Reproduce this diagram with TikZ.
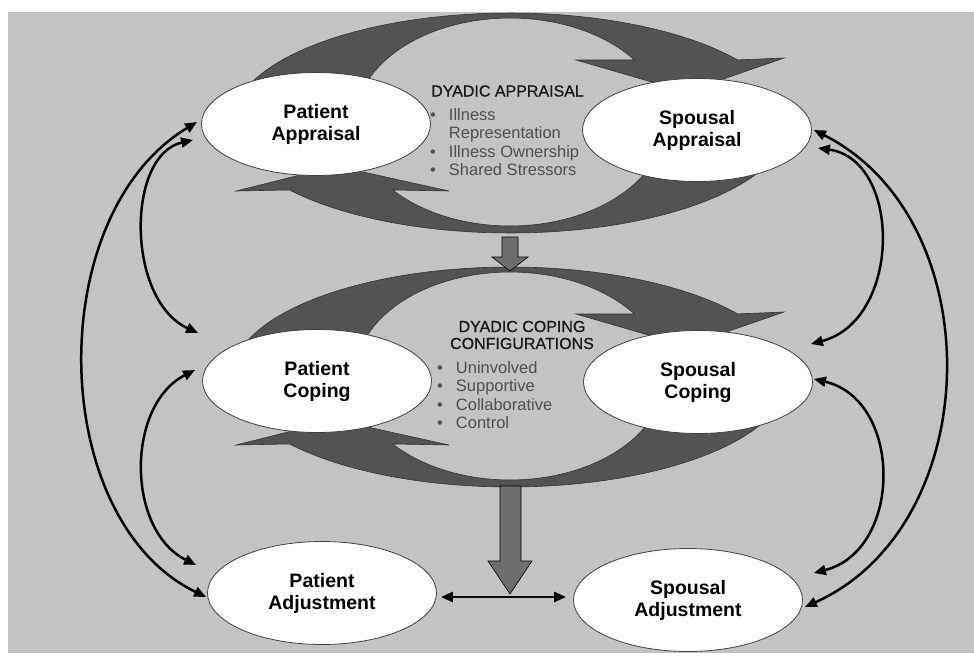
\documentclass[tikz,border=0pt]{standalone}
\usepackage{fontspec}
\setmainfont{Liberation Sans}
\newfontfamily\headfont{Liberation Sans}[FakeBold=0.7]
\usetikzlibrary{shapes.geometric,arrows.meta}

\definecolor{panelgray}{HTML}{C3C3C3}
\definecolor{cyclegray}{HTML}{535353}
\definecolor{blockgray}{HTML}{6E6E6E}
\definecolor{itemgray}{HTML}{505050}

% the two crescent arrows of one dyadic cycle
\newcommand{\dyadcycle}{%
  \filldraw[crescent]
    plot[domain=168:35] ({510+278*cos(\x)},{123-110*sin(\x)})
    -- (784,58) -- (686,92) -- (576,60)
    -- plot[domain=36.6:168] ({510+155*cos(\x)},{122-104*sin(\x)}) -- cycle;
  \filldraw[crescent]
    plot[domain=-19.6:-142.5] ({510+278*cos(\x)},{123-110*sin(\x)})
    -- (236,191) -- (336,166) -- (449,191)
    -- plot[domain=-139.2:-21.4] ({510+155*cos(\x)},{122-104*sin(\x)}) -- cycle;
}

\begin{document}
\begin{tikzpicture}[x=1pt,y=-1pt,>={Triangle[length=12pt,width=10pt]},
    oval/.style={ellipse,draw=black!75,line width=0.8pt,fill=white,inner sep=0pt,
      minimum width=229pt,minimum height=103pt,align=center,
      font=\fontsize{19.5}{22}\selectfont\bfseries},
    crescent/.style={fill=cyclegray,draw=black!80,line width=0.6pt,samples=40},
    blockarrow/.style={fill=blockgray,draw=black,line width=0.6pt},
    heading/.style={inner sep=0pt,text=black!90,font=\fontsize{16}{17}\headfont},
    items/.style={inner sep=0pt,text=itemgray,anchor=north west,
      font=\fontsize{16.5}{18.5}\selectfont},
    link/.style={<->,line width=2.5pt}]
  \useasboundingbox (0,0) rectangle (974,664);
  \fill[white] (0,0) rectangle (974,664);
  \fill[panelgray] (8,12) rectangle (974,653);

  % appraisal cycle, then coping cycle below it
  \dyadcycle
  \begin{scope}[yshift=-254pt]
    \dyadcycle
  \end{scope}

  \filldraw[blockarrow] (502,237) -- (518,237) -- (518,257) -- (528,257)
    -- (510,271) -- (492,257) -- (502,257) -- cycle;
  \filldraw[blockarrow] (500,486) -- (521,486) -- (521,561) -- (532,561)
    -- (510,594) -- (488,561) -- (500,561) -- cycle;

  \node[oval] (pa) at (316,124) {Patient\\Appraisal};
  \node[oval] (sa) at (697,130) {Spousal\\Appraisal};
  \node[oval] (pc) at (317,381) {Patient\\Coping};
  \node[oval] (sc) at (698,382) {Spousal\\Coping};
  \node[oval] (padj) at (322,593) {Patient\\Adjustment};
  \node[oval] (sadj) at (688,600) {Spousal\\Adjustment};

  \node[heading,anchor=west] (apphead) at (431,91) {DYADIC APPRAISAL};
  \node[items] (applist) at (430,107) {\begin{tabular}{@{}l@{\hspace{13pt}}l@{}}
    \textbullet & Illness\\
                & Representation\\
    \textbullet & Illness Ownership\\
    \textbullet & Shared Stressors
  \end{tabular}};

  \node[heading,align=center] (cophead) at (522,335) {DYADIC COPING\\CONFIGURATIONS};
  \node[items] (coplist) at (437,360) {\begin{tabular}{@{}l@{\hspace{13pt}}l@{}}
    \textbullet & Uninvolved\\
    \textbullet & Supportive\\
    \textbullet & Collaborative\\
    \textbullet & Control
  \end{tabular}};

  % patient side
  \draw[link] ([xshift=-4pt,yshift=2pt]pa.west) .. controls (42,215) and (47,520)
    .. ([xshift=-1pt,yshift=-4pt]padj.west);
  \draw[link] ([xshift=-8pt,yshift=-16pt]pa.west) .. controls (126,155) and (126,300)
    .. ([xshift=-4pt,yshift=48pt]pc.west);
  \draw[link] ([xshift=-7pt,yshift=11pt]pc.west) .. controls (126,405) and (126,530)
    .. ([xshift=-11pt,yshift=28pt]padj.west);

  % spouse side
  \draw[link] ([xshift=2pt]sa.east) .. controls (992,220) and (987,525)
    .. ([xshift=2pt,yshift=-7pt]sadj.east);
  \draw[link] ([xshift=6pt,yshift=-18pt]sa.east) .. controls (902,160) and (902,320)
    .. ([xshift=-2pt,yshift=38pt]sc.east);
  \draw[link] ([xshift=1pt,yshift=3pt]sc.east) .. controls (903,400) and (903,550)
    .. ([xshift=11pt,yshift=27pt]sadj.east);

  \draw[link,shorten <=4pt,shorten >=7pt] ([yshift=-4pt]padj.east) -- ([yshift=3pt]sadj.west);
\end{tikzpicture}
\end{document}
